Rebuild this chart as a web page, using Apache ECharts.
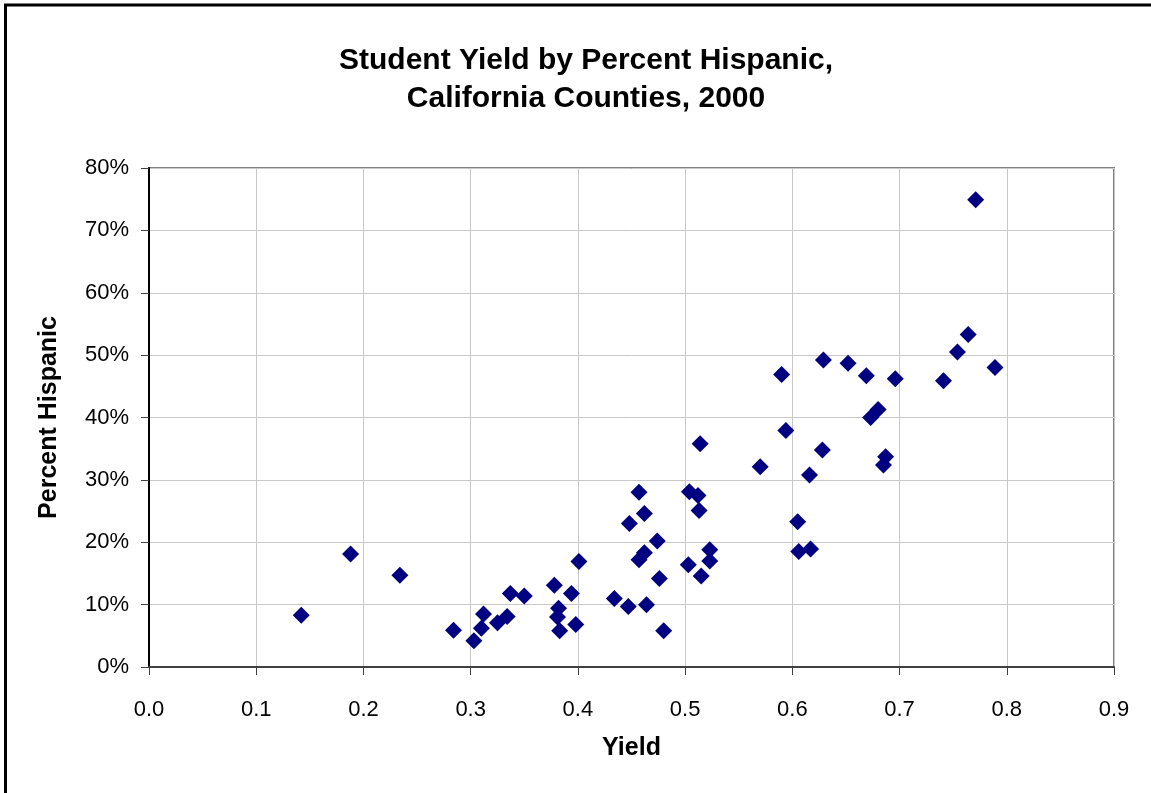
<!DOCTYPE html>
<html>
<head>
<meta charset="utf-8">
<script src="https://cdn.jsdelivr.net/npm/echarts@6/dist/echarts.min.js"></script>
<style>
html,body{margin:0;padding:0;background:#fff;}
#chart{width:1151px;height:793px;}
</style>
</head>
<body>
<div id="chart"></div>
<script>
// Data
const titleLines = ["Student Yield by Percent Hispanic,", "California Counties, 2000"];
const xAxisName = "Yield";
const yAxisName = "Percent Hispanic";
const xTicks = ["0.0","0.1","0.2","0.3","0.4","0.5","0.6","0.7","0.8","0.9"];
const yTicks = ["0%","10%","20%","30%","40%","50%","60%","70%","80%"];

const yieldValues = [
  0.142, 0.188, 0.234, 0.284, 0.303, 0.312, 0.310, 0.325, 0.334, 0.337,
  0.350, 0.378, 0.382, 0.381, 0.383, 0.394, 0.398, 0.401, 0.434, 0.447,
  0.464, 0.480, 0.448, 0.457, 0.462, 0.474, 0.462, 0.457, 0.476, 0.503,
  0.515, 0.523, 0.523, 0.504, 0.512, 0.513, 0.514, 0.771, 0.764, 0.754,
  0.789, 0.741, 0.696, 0.669, 0.652, 0.629, 0.590, 0.680, 0.673, 0.594,
  0.628, 0.687, 0.685, 0.570, 0.616, 0.605, 0.606, 0.617
];
const hispanicValues = [
  0.083, 0.181, 0.147, 0.059, 0.042, 0.085, 0.062, 0.071, 0.081, 0.118,
  0.114, 0.131, 0.094, 0.080, 0.058, 0.118, 0.068, 0.169, 0.110, 0.097,
  0.100, 0.058, 0.230, 0.280, 0.246, 0.202, 0.183, 0.172, 0.142, 0.164,
  0.146, 0.188, 0.170, 0.281, 0.275, 0.251, 0.358, 0.749, 0.533, 0.505,
  0.480, 0.459, 0.462, 0.467, 0.487, 0.492, 0.469, 0.413, 0.400, 0.379,
  0.348, 0.337, 0.324, 0.321, 0.308, 0.233, 0.185, 0.189
];

const points = yieldValues.map((x, i) => [x, hispanicValues[i]]);

const chart = echarts.init(document.getElementById('chart'), null, {renderer: 'canvas'});
const fontFam = '"Liberation Sans", Arial, sans-serif';

chart.setOption({
  backgroundColor: '#ffffff',
  animation: false,
  graphic: [
    {type: 'rect', shape: {x: 5.5, y: 5, width: 1250, height: 900},
     style: {fill: 'none', stroke: '#000', lineWidth: 3}, z: -10, silent: true}
  ],
  title: {
    text: titleLines.join('\n'),
    left: 581, top: 37, textAlign: 'center',
    textStyle: {fontFamily: fontFam, fontSize: 30, fontWeight: 'bold', color: '#000', lineHeight: 38}
  },
  grid: {left: 149, top: 168, right: 37, bottom: 126, containLabel: false,
         show: true, borderColor: '#808080', borderWidth: 2, backgroundColor: '#fff'},
  xAxis: {
    type: 'value', min: 0, max: 0.9, interval: 0.1,
    name: xAxisName, nameLocation: 'middle', nameGap: 69,
    nameTextStyle: {fontFamily: fontFam, fontSize: 25, fontWeight: 'bold', color: '#000'},
    axisLine: {show: true, onZero: false, lineStyle: {color: '#404040', width: 2}},
    axisTick: {show: true, inside: false, length: 8, lineStyle: {color: '#404040', width: 1}},
    axisLabel: {margin: 32, fontFamily: fontFam, fontSize: 22, color: '#000',
                formatter: (v) => xTicks[Math.round(v * 10)]},
    splitLine: {show: true, lineStyle: {color: '#c8c8c8', width: 1}}
  },
  yAxis: {
    type: 'value', min: 0, max: 0.8, interval: 0.1,
    name: yAxisName, nameLocation: 'middle', nameGap: 87, nameRotate: 90,
    nameTextStyle: {fontFamily: fontFam, fontSize: 25, fontWeight: 'bold', color: '#000'},
    axisLine: {show: true, onZero: false, lineStyle: {color: '#000', width: 2}},
    axisTick: {show: true, inside: false, length: 8, lineStyle: {color: '#404040', width: 1}},
    axisLabel: {margin: 20, fontFamily: fontFam, fontSize: 22, color: '#000',
                formatter: (v) => yTicks[Math.round(v * 10)]},
    splitLine: {show: true, lineStyle: {color: '#c8c8c8', width: 1}}
  },
  series: [{
    type: 'scatter',
    data: points,
    symbol: 'diamond',
    symbolSize: 17,
    itemStyle: {color: '#000080', opacity: 1},
    z: 5
  }]
});
</script>
</body>
</html>
